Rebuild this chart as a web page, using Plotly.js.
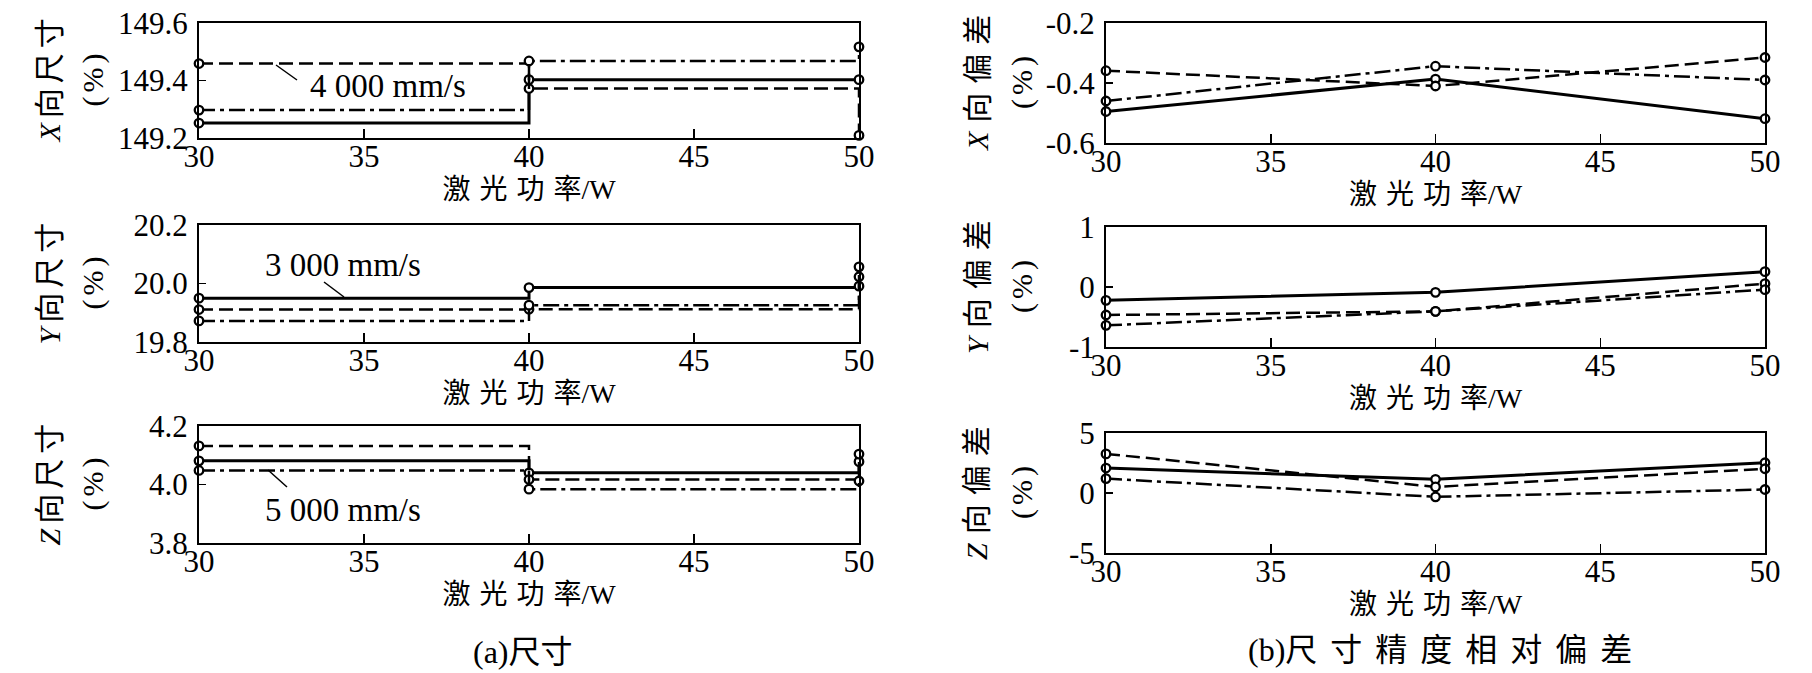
<!DOCTYPE html>
<html><head><meta charset="utf-8">
<script src="https://cdn.plot.ly/plotly-3.0.1.min.js"></script>
<style>html,body{margin:0;padding:0;background:#fff;}#chart{width:1812px;height:673px;}</style>
</head><body><div id="chart"></div>
<script>
// ---------- data ----------
const power = [30, 40, 50];
const speeds = ['3 000 mm/s', '4 000 mm/s', '5 000 mm/s'];
// (a) sizes
const sizeX_3000 = [149.252, 149.403, 149.403];
const sizeX_4000 = [149.459, 149.372, 149.209];
const sizeX_5000 = [149.297, 149.468, 149.517];
const sizeY_3000 = [19.950, 19.986, 19.991];
const sizeY_4000 = [19.911, 19.912, 20.023];
const sizeY_5000 = [19.872, 19.926, 20.057];
const sizeZ_3000 = [4.081, 4.040, 4.078];
const sizeZ_4000 = [4.132, 4.017, 4.012];
const sizeZ_5000 = [4.048, 3.984, 4.104];
// (b) relative deviation of size accuracy
const devX_3000 = [-0.495, -0.387, -0.519];
const devX_4000 = [-0.359, -0.410, -0.315];
const devX_5000 = [-0.460, -0.344, -0.390];
const devY_3000 = [-0.222, -0.089, 0.256];
const devY_4000 = [-0.467, -0.406, 0.056];
const devY_5000 = [-0.639, -0.406, -0.044];
const devZ_3000 = [2.08, 1.14, 2.52];
const devZ_4000 = [3.26, 0.51, 2.02];
const devZ_5000 = [1.20, -0.32, 0.29];
// ticks
const xTickVals = [30, 35, 40, 45, 50];
const xTickText = ['30', '35', '40', '45', '50'];
const sizeXTickVals = [149.2, 149.4, 149.6], sizeXTickText = ['149.2', '149.4', '149.6'];
const sizeYTickVals = [19.8, 20.0, 20.2], sizeYTickText = ['19.8', '20.0', '20.2'];
const sizeZTickVals = [3.8, 4.0, 4.2], sizeZTickText = ['3.8', '4.0', '4.2'];
const devXTickVals = [-0.6, -0.4, -0.2], devXTickText = ['-0.6', '-0.4', '-0.2'];
const devYTickVals = [-1, 0, 1], devYTickText = ['-1', '0', '1'];
const devZTickVals = [-5, 0, 5], devZTickText = ['-5', '0', '5'];
// texts
const xTitleCJK = '激光功率', xTitleUnit = '/W';
const yTitles = ['<i>X</i>向尺寸', '<i>Y</i>向尺寸', '<i>Z</i>向尺寸', '<i>X</i>向偏差', '<i>Y</i>向偏差', '<i>Z</i>向偏差'];
const unitTitle = '(%)';
const captionA = '(a)尺寸';
const captionBLabel = '(b)', captionBText = '尺寸精度相对偏差';

// ---------- layout helpers ----------
const W = 1812, H = 673;
const FONT = "'Liberation Serif', 'Times New Roman', 'Noto Sans CJK SC', serif";
const px = v => v / W, py = v => 1 - v / H;
const spaced = (t, s) => '<span style="letter-spacing:' + s + 'px">' + t + '</span>';
const spacedInner = (t, s) => spaced(t.slice(0, -1), s) + t.slice(-1);

const panels = [
  {series: [sizeX_3000, sizeX_4000, sizeX_5000], tv: sizeXTickVals, tt: sizeXTickText, step: true, box: [199, 859, 23, 138]},
  {series: [sizeY_3000, sizeY_4000, sizeY_5000], tv: sizeYTickVals, tt: sizeYTickText, step: true, box: [199, 859, 225, 342]},
  {series: [sizeZ_3000, sizeZ_4000, sizeZ_5000], tv: sizeZTickVals, tt: sizeZTickText, step: true, box: [199, 859, 426, 543]},
  {series: [devX_3000, devX_4000, devX_5000], tv: devXTickVals, tt: devXTickText, step: false, box: [1106, 1765, 23, 143]},
  {series: [devY_3000, devY_4000, devY_5000], tv: devYTickVals, tt: devYTickText, step: false, box: [1106, 1765, 227, 347]},
  {series: [devZ_3000, devZ_4000, devZ_5000], tv: devZTickVals, tt: devZTickText, step: false, box: [1106, 1765, 433, 553]}
];
const styles = [
  {dash: 'solid', width: 3},
  {dash: '14px,6px', width: 2.5},
  {dash: '16px,5px,4px,5px', width: 2.5}
];

const data = [];
const layout = {
  width: W, height: H,
  margin: {l: 0, r: 0, t: 0, b: 0},
  paper_bgcolor: '#fff', plot_bgcolor: '#fff',
  showlegend: false,
  font: {family: FONT, color: '#000', size: 30},
  annotations: [], shapes: []
};

panels.forEach((p, i) => {
  const n = i + 1;
  const xk = 'xaxis' + (n === 1 ? '' : n), yk = 'yaxis' + (n === 1 ? '' : n);
  const xr = 'x' + (n === 1 ? '' : n), yr = 'y' + (n === 1 ? '' : n);
  p.series.forEach((s, k) => {
    data.push({
      x: power, y: s, xaxis: xr, yaxis: yr, type: 'scatter', mode: 'lines+markers',
      name: speeds[k], cliponaxis: false,
      line: {color: '#000', width: styles[k].width, dash: styles[k].dash, shape: p.step ? 'hv' : 'linear'},
      marker: {symbol: 'circle', size: 8.5, color: '#fff', line: {color: '#000', width: 2.3}}
    });
  });
  const [x0, x1, y0, y1] = p.box;
  layout[xk] = {
    domain: [px(x0), px(x1)], anchor: yr, range: [30, 50],
    tickmode: 'array', tickvals: xTickVals, ticktext: xTickText,
    ticks: 'inside', ticklen: 9, tickwidth: 1.5, tickcolor: '#000',
    showline: true, mirror: true, linewidth: 2, linecolor: '#000',
    showgrid: false, zeroline: false, fixedrange: true,
    tickfont: {family: FONT, size: 31, color: '#000'}, ticklabelstandoff: -10,
    title: {text: spacedInner(xTitleCJK, 9) + xTitleUnit, font: {family: FONT, size: 28, color: '#000'}, standoff: 0}
  };
  layout[yk] = {
    domain: [py(y1), py(y0)], anchor: xr, range: [p.tv[0], p.tv[p.tv.length - 1]],
    tickmode: 'array', tickvals: p.tv, ticktext: p.tt,
    ticks: 'inside', ticklen: 7, tickwidth: 1.5, tickcolor: '#000',
    showline: true, mirror: true, linewidth: 2, linecolor: '#000',
    showgrid: false, zeroline: false, fixedrange: true,
    tickfont: {family: FONT, size: 31, color: '#000'}, ticklabelstandoff: 3
  };
  const left = i < 3;
  const tx1 = left ? 49 : 977, tx2 = left ? 92 : 1022;
  const cy = (y0 + y1) / 2;
  layout.annotations.push({
    xref: 'paper', yref: 'paper', x: px(tx1), y: py(cy), text: spacedInner(yTitles[i], left ? 5 : 9), showarrow: false,
    textangle: -90, xanchor: 'center', yanchor: 'middle', font: {family: FONT, size: 30, color: '#000'}
  });
  layout.annotations.push({
    xref: 'paper', yref: 'paper', x: px(tx2), y: py(cy), text: spacedInner(unitTitle, 4), showarrow: false,
    textangle: -90, xanchor: 'center', yanchor: 'middle', font: {family: FONT, size: 30, color: '#000'}
  });
});

// speed labels with leader lines (left panels)
const labels = [
  {text: speeds[1], cx: 388, cy: 86, l: [276, 65, 297, 80]},
  {text: speeds[0], cx: 343, cy: 265, l: [324, 282, 344, 297]},
  {text: speeds[2], cx: 343, cy: 510, l: [268, 470, 287, 487]}
];
labels.forEach(o => {
  layout.annotations.push({xref: 'paper', yref: 'paper', x: px(o.cx), y: py(o.cy), text: o.text,
    showarrow: false, xanchor: 'center', yanchor: 'middle', font: {family: FONT, size: 33, color: '#000'}});
  layout.shapes.push({type: 'line', xref: 'paper', yref: 'paper', x0: px(o.l[0]), y0: py(o.l[1]),
    x1: px(o.l[2]), y1: py(o.l[3]), line: {color: '#000', width: 1.5}});
});
// captions
layout.annotations.push({xref: 'paper', yref: 'paper', x: px(523), y: py(652), text: captionA, showarrow: false,
  xanchor: 'center', yanchor: 'middle', font: {family: FONT, size: 32, color: '#000'}});
layout.annotations.push({xref: 'paper', yref: 'paper', x: px(1440), y: py(650), text: captionBLabel + spacedInner(captionBText, 13), showarrow: false,
  xanchor: 'center', yanchor: 'middle', font: {family: FONT, size: 32, color: '#000'}});

Plotly.newPlot('chart', data, layout, {staticPlot: true, displayModeBar: false});
</script>
</body></html>
